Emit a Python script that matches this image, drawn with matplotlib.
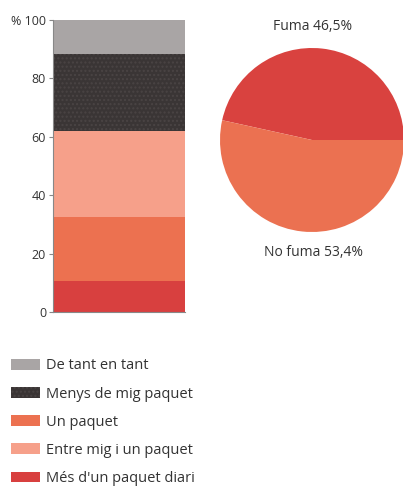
import matplotlib.pyplot as plt
from matplotlib.patches import Patch

plt.rcParams['font.family'] = ['Open Sans', 'DejaVu Sans']

# bar stack, bottom to top
segments = ["Més d'un paquet diari", "Un paquet", "Entre mig i un paquet",
            "Menys de mig paquet", "De tant en tant"]
seg_values = [10.5, 22.0, 29.5, 26.3, 11.7]
seg_colors = ["#d8403f", "#ec7150", "#f6a08a", "#3a3535", "#a9a5a5"]

# legend order, top to bottom
legend_order = ["De tant en tant", "Menys de mig paquet", "Un paquet",
                "Entre mig i un paquet", "Més d'un paquet diari"]

pie_labels = ["Fuma 46,5%", "No fuma 53,4%"]
pie_values = [46.5, 53.4]
pie_colors = ["#d9423f", "#eb7151"]

yticks = [0, 20, 40, 60, 80, 100]
ytick_labels = ["0", "20", "40", "60", "80", "% 100"]

W, H = 403, 487
fig = plt.figure(figsize=(W / 100, H / 100), dpi=100)

# stacked bar
ax = fig.add_axes([53 / W, 1 - 312 / H, 132 / W, 292 / H])
bottom = 0
for name, v, c in zip(segments, seg_values, seg_colors):
    hatch = "...." if name == "Menys de mig paquet" else None
    ax.bar(0, v, bottom=bottom, width=1, color=c, edgecolor="#4a4444" if hatch else c,
           linewidth=0, hatch=hatch)
    bottom += v
ax.set_xlim(-0.5, 0.5)
ax.set_ylim(0, 100)
ax.set_yticks(yticks)
ax.set_yticklabels(ytick_labels, fontsize=9, color="#333333")
ax.set_xticks([])
for s in ["top", "right"]:
    ax.spines[s].set_visible(False)
for s in ["left", "bottom"]:
    ax.spines[s].set_color("#888888")
    ax.spines[s].set_linewidth(0.8)
ax.tick_params(axis="y", length=3, color="#888888", pad=2)

# pie
pax = fig.add_axes([(312 - 92) / W, 1 - (140 + 92) / H, 184 / W, 184 / H])
pax.pie(pie_values, colors=pie_colors, startangle=0, counterclock=True,
        wedgeprops=dict(linewidth=0))
pax.set_xlim(-1, 1)
pax.set_ylim(-1, 1)
pax.set_aspect("equal")
fig.text(313 / W, 1 - 26 / H, pie_labels[0], ha="center", va="center",
         fontsize=10, color="#333333")
fig.text(313 / W, 1 - 253 / H, pie_labels[1], ha="center", va="center",
         fontsize=10, color="#333333")

# legend
color_of = dict(zip(segments, seg_colors))
handles = []
for name in legend_order:
    hatch = "...." if name == "Menys de mig paquet" else None
    handles.append(Patch(facecolor=color_of[name], edgecolor="#4a4444" if hatch else color_of[name],
                         hatch=hatch, linewidth=0, label=name))
fig.legend(handles=handles, loc="upper left", bbox_to_anchor=(0 / W, 1 - 347.5 / H),
           frameon=False, fontsize=10.5, labelspacing=0.9, handlelength=2.0,
           handleheight=0.75, handletextpad=0.4, borderaxespad=0.35,
           labelcolor="#333333")

fig.savefig("out.png", dpi=100)
